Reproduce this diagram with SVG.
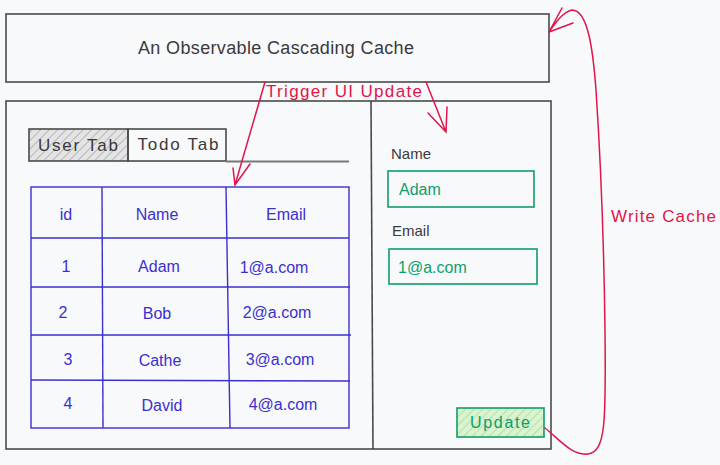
<svg xmlns="http://www.w3.org/2000/svg" width="720" height="465" viewBox="0 0 720 465">
<style>
.box{fill:none;stroke:#4a4a4a;stroke-width:1.6}
.t{font-family:"Liberation Sans",Arial,sans-serif;fill:#3a3a3a}
.blue{stroke:#3b2fcf;stroke-width:1.4;fill:none}
.bt{font-family:"Liberation Sans",Arial,sans-serif;fill:#3b2fcf;font-size:16px;text-anchor:middle}
.red{stroke:#e0154a;stroke-width:1.5;fill:none;stroke-linecap:round}
.rt{font-family:"Liberation Sans",Arial,sans-serif;fill:#e0154a;font-size:17px}
.grn{stroke:#0f9d6a;stroke-width:1.6;fill:none}
.gt{font-family:"Liberation Sans",Arial,sans-serif;fill:#0f9d6a;font-size:16px}
</style>
<defs>
<pattern id="hg" width="6" height="6" patternUnits="userSpaceOnUse" patternTransform="rotate(45)">
<rect width="6" height="6" fill="#e4e4e4"/><line x1="0" y1="0" x2="0" y2="6" stroke="#a8a8a8" stroke-width="1.5"/>
</pattern>
<pattern id="hgr" width="6" height="6" patternUnits="userSpaceOnUse" patternTransform="rotate(45)">
<rect width="6" height="6" fill="#d9f2d0"/><line x1="0" y1="0" x2="0" y2="6" stroke="#a9dd96" stroke-width="1.5"/>
</pattern>
</defs>
<rect width="720" height="465" fill="#f8f9fa"/>
<g id="cache">
<rect class="box" x="6" y="14" width="543" height="68"/>
<text class="t" x="276" y="54" font-size="18" text-anchor="middle" textLength="276">An Observable Cascading Cache</text>
</g>
<g id="app">
<rect class="box" x="6" y="101" width="545" height="348"/>
<line class="box" x1="371" y1="101" x2="373" y2="449"/>
</g>
<g id="tabs">
<rect x="29" y="129" width="99" height="32" fill="url(#hg)" stroke="#4a4a4a" stroke-width="1.6"/>
<text class="t" x="78" y="151" font-size="17" text-anchor="middle" textLength="80">User Tab</text>
<rect class="box" x="128" y="129" width="98" height="32"/>
<text class="t" x="178" y="150" font-size="17" text-anchor="middle" textLength="81">Todo Tab</text>
<line x1="226" y1="161.5" x2="349" y2="161.5" stroke="#777" stroke-width="2"/>
</g>
<g id="table">
<rect class="blue" x="31" y="187" width="318" height="241"/>
<line class="blue" x1="102" y1="187" x2="103" y2="428"/>
<line class="blue" x1="226" y1="187" x2="230" y2="428"/>
<line class="blue" x1="31" y1="238" x2="349" y2="238"/>
<line class="blue" x1="31" y1="287" x2="350" y2="287"/>
<line class="blue" x1="31" y1="335" x2="351" y2="335"/>
<line class="blue" x1="31" y1="380" x2="350" y2="381"/>
<text class="bt" x="66" y="220">id</text>
<text class="bt" x="157" y="220">Name</text>
<text class="bt" x="286" y="220">Email</text>
<text class="bt" x="66" y="272">1</text>
<text class="bt" x="159" y="272">Adam</text>
<text class="bt" x="274" y="273">1@a.com</text>
<text class="bt" x="63" y="318">2</text>
<text class="bt" x="157" y="319">Bob</text>
<text class="bt" x="277" y="318">2@a.com</text>
<text class="bt" x="68" y="365">3</text>
<text class="bt" x="160" y="366">Cathe</text>
<text class="bt" x="280" y="365">3@a.com</text>
<text class="bt" x="68" y="409">4</text>
<text class="bt" x="162" y="411">David</text>
<text class="bt" x="283" y="410">4@a.com</text>
</g>
<g id="form">
<text class="t" x="391" y="159" font-size="15">Name</text>
<rect class="grn" x="388" y="171" width="146" height="36"/>
<text class="gt" x="399" y="195">Adam</text>
<text class="t" x="392" y="236" font-size="15">Email</text>
<rect class="grn" x="389" y="249" width="148" height="35"/>
<text class="gt" x="398" y="273">1@a.com</text>
</g>
<g id="update">
<rect x="457" y="408" width="87" height="29" fill="url(#hgr)" stroke="#0f9d6a" stroke-width="1.6"/>
<text class="gt" x="500" y="428" text-anchor="middle" textLength="60">Update</text>
</g>
<g id="connectors">
<path class="red" d="M265 82 L235 185 M233 168 L235 185 L250 164"/>
<path class="red" d="M426 82 L446 132 M428 113 L446 132 L447 107"/>
<text class="rt" x="266" y="97" textLength="156">Trigger UI Update</text>
<path class="red" d="M545 428 C560 440 572 456 588 454 C606 452 606 420 605 330 C604 250 600 150 596 90 C593 50 588 10 572 10 C563 12 556 22 549 32 M549 32 L562 8 M549 32 L573 23"/>
<text class="rt" x="611" y="222" textLength="105">Write Cache</text>
</g>
</svg>
